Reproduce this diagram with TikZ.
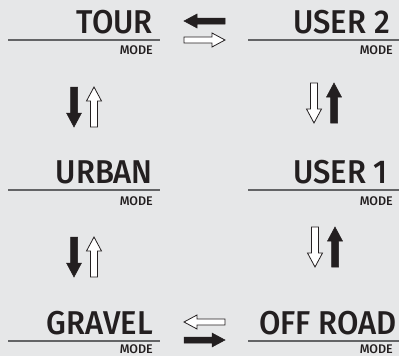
\documentclass[tikz,border=0pt]{standalone}
\usepackage{fontspec}
\setmainfont{Fira Sans}
\newfontfamily\labfont[FakeStretch=0.94]{Fira Sans Medium}
\newfontfamily\modefont{Fira Sans Medium}
\definecolor{bg}{HTML}{E6E7E8}
\definecolor{ink}{HTML}{231F20}
\definecolor{rulec}{HTML}{636466}
% horizontal arrow: #1 style, #2 tail x, #3 y, #4 direction (1 right, -1 left)
\newcommand\harr[4]{\path[#1,shift={(#2,#3)},xscale=#4]
  (0,-3) -- (28,-3) -- (28,-7) -- (41,0) -- (28,7) -- (28,3) -- (0,3) -- cycle;}
% vertical arrow: #1 style, #2 x, #3 tail y, #4 direction (1 down, -1 up)
\newcommand\varr[4]{\path[#1,shift={(#2,#3)},yscale=#4]
  (-3.5,0) -- (-3.5,26) -- (-7.5,26) -- (0,40) -- (7.5,26) -- (3.5,26) -- (3.5,0) -- cycle;}
\begin{document}
\begin{tikzpicture}[x=1pt,y=-1pt,
  big/.style={font=\labfont\fontsize{33}{33}\selectfont,text=ink,inner sep=0pt,anchor=base east},
  small/.style={font=\modefont\fontsize{12.5}{12.5}\selectfont,text=ink,inner sep=0pt,anchor=base east},
  uline/.style={draw=rulec,line width=1.5pt},
  solidarr/.style={fill=ink,draw=ink,line width=0.5pt,line join=miter},
  hollowarr/.style={fill=white,draw=ink,line width=0.8pt,line join=miter}]
\fill[bg] (0,0) rectangle (399,356);
\useasboundingbox (0,0) rectangle (399,356);
% left column
\node[big] (tour) at (153,33) {TOUR};
\node[small] (tourm) at (153,54) {MODE};
\draw[uline] (8,40) -- (160,40);
\node[big] (urban) at (153,183) {URBAN};
\node[small] (urbanm) at (153,205) {MODE};
\draw[uline] (8,190) -- (160,190);
\node[big] (gravel) at (153,334) {GRAVEL};
\node[small] (gravelm) at (153,353) {MODE};
\draw[uline] (8,341) -- (160,341);
% right column
\node[big] (user2) at (390,33) {USER 2};
\node[small] (user2m) at (393,54) {MODE};
\draw[uline] (248,40) -- (399,40);
\node[big] (user1) at (388,183) {USER 1};
\node[small] (user1m) at (393,205) {MODE};
\draw[uline] (248,190) -- (399,190);
\node[big] (offroad) at (397,334) {OFF ROAD};
\node[small] (offroadm) at (393,353) {MODE};
\draw[uline] (248,341) -- (399,341);
% horizontal arrows
\harr{solidarr}{225}{21}{-1}
\harr{hollowarr}{184}{40}{1}
\harr{hollowarr}{225}{322}{-1}
\harr{solidarr}{184}{340}{1}
% vertical arrows
\varr{solidarr}{74}{87}{1}
\varr{hollowarr}{94}{127}{-1}
\varr{hollowarr}{314}{83}{1}
\varr{solidarr}{334}{123}{-1}
\varr{solidarr}{74}{237}{1}
\varr{hollowarr}{94}{277}{-1}
\varr{hollowarr}{315}{227}{1}
\varr{solidarr}{335}{267}{-1}
\end{tikzpicture}
\end{document}
